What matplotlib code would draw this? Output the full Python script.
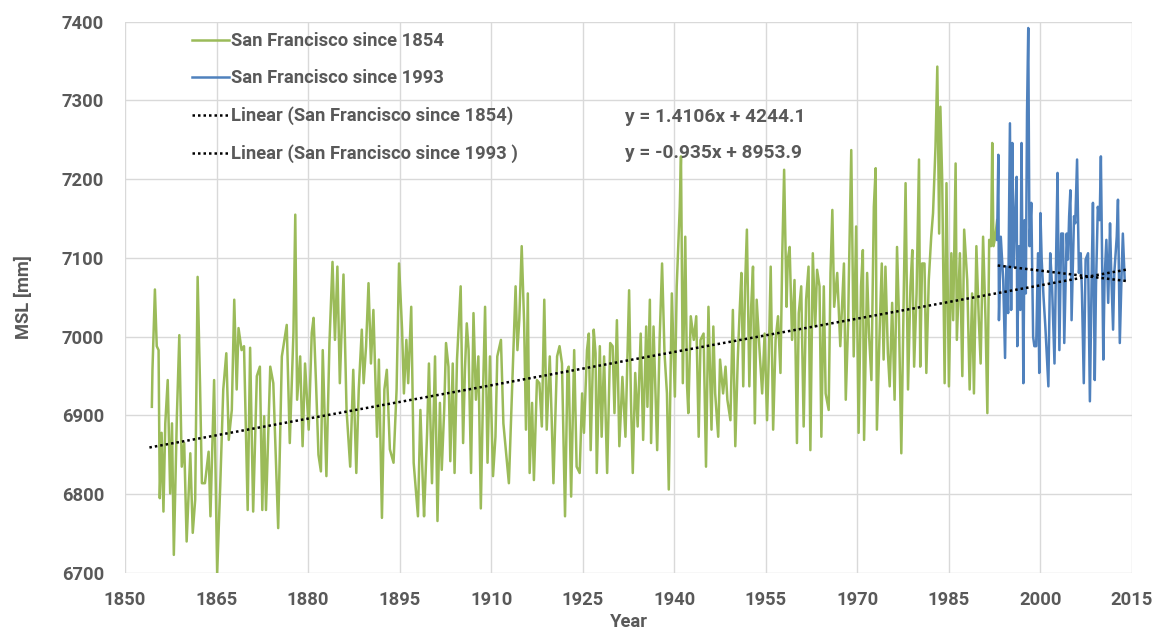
import matplotlib
matplotlib.use("Agg")
import matplotlib.pyplot as plt
import numpy as np

# Monthly mean sea level, San Francisco (mm)
sf1854_year = [
    1854.4, 1854.5, 1854.9, 1855.2, 1855.5, 1855.7, 1856.0, 1856.3, 1856.6, 1857.0,
    1857.4, 1857.7, 1858.0, 1858.5, 1858.9, 1859.3, 1859.7, 1860.1, 1860.7, 1861.1,
    1861.5, 1861.9, 1862.3, 1862.6, 1863.1, 1863.7, 1864.0, 1864.6, 1865.1, 1865.6,
    1866.1, 1866.6, 1867.0, 1867.5, 1867.9, 1868.3, 1868.6, 1869.1, 1869.5, 1870.1,
    1870.5, 1871.0, 1871.6, 1872.1, 1872.5, 1872.8, 1873.1, 1873.8, 1874.3, 1875.1,
    1875.7, 1876.5,
    1877.0, 1877.6, 1877.9, 1878.2, 1878.7, 1879.1, 1879.5, 1880.1, 1880.6, 1880.9,
    1881.3, 1881.7, 1882.1, 1882.4, 1883.0, 1883.5, 1884.0, 1884.4, 1884.8, 1885.2,
    1885.8, 1886.3, 1886.9, 1887.4, 1887.9, 1888.3, 1888.8, 1889.1, 1889.5, 1889.9,
    1890.3, 1890.7, 1891.3, 1891.6, 1892.1, 1892.5, 1892.9, 1893.4, 1894.0, 1894.5,
    1894.9, 1895.4, 1895.7, 1896.1, 1896.4, 1896.9, 1897.3, 1897.7, 1898.0, 1898.4,
    1898.8, 1899.0, 1899.5,
    1899.8, 1900.3, 1900.8, 1901.2, 1901.6, 1901.9, 1902.3, 1902.6, 1903.0, 1903.3,
    1903.7, 1904.0, 1904.4, 1904.8, 1905.0, 1905.4, 1905.7, 1906.0, 1906.3, 1906.7,
    1907.1, 1907.5, 1907.9, 1908.3, 1908.7, 1909.0, 1909.4, 1909.8, 1910.3, 1910.7,
    1911.0, 1911.6, 1912.0, 1912.5, 1912.9, 1913.2, 1913.7, 1914.0, 1914.3, 1914.6,
    1915.0, 1915.4, 1915.7, 1916.0, 1916.3, 1916.7, 1917.0, 1917.5, 1917.9, 1918.3,
    1918.7, 1919.1, 1919.6, 1919.9, 1920.2, 1920.8, 1921.2, 1921.6, 1922.1, 1922.5,
    1922.7, 1923.1, 1923.6, 1924.0, 1924.5, 1924.9, 1925.2, 1925.7, 1926.0, 1926.3,
    1926.8, 1927.1, 1927.3, 1927.8, 1928.1, 1928.5, 1929.0, 1929.5, 1929.9, 1930.2,
    1930.6, 1931.0, 1931.5, 1932.0, 1932.6, 1932.9, 1933.2, 1933.6, 1934.0, 1934.5,
    1934.9, 1935.4, 1935.6, 1936.0, 1936.2, 1936.6, 1937.2, 1937.6, 1938.0, 1938.4,
    1938.8, 1939.1, 1939.6, 1940.1, 1940.4, 1940.9, 1941.1, 1941.4, 1941.8, 1942.1,
    1942.3, 1942.7, 1943.2, 1943.6, 1944.0, 1944.3, 1944.8, 1945.2, 1945.6,
    1946.1, 1946.4, 1946.7, 1947.2, 1947.5, 1948.0, 1948.4, 1948.7, 1949.2, 1949.6,
    1950.0, 1950.4, 1950.7, 1951.0, 1951.3, 1951.6, 1951.9, 1952.3, 1952.6, 1952.9,
    1953.2, 1953.5, 1954.0, 1954.4, 1954.8, 1955.2, 1955.5, 1955.8, 1956.2, 1956.6,
    1957.0, 1957.4, 1957.7, 1958.0, 1958.4, 1958.6, 1958.9, 1959.3, 1959.7, 1960.1,
    1960.4, 1960.8, 1961.2, 1961.6, 1962.0, 1962.3, 1962.7, 1963.1, 1963.4, 1963.8,
    1964.1, 1964.5, 1964.8, 1965.3, 1965.6, 1965.9, 1966.2, 1966.7, 1967.2, 1967.8,
    1968.1, 1968.5,
    1968.6, 1969.0, 1969.4, 1969.8, 1970.2, 1970.6, 1970.9, 1971.1, 1971.6, 1971.9,
    1972.3, 1972.7, 1973.0, 1973.2, 1973.7, 1974.0, 1974.3, 1974.6, 1975.0, 1975.3,
    1975.7, 1976.1, 1976.5, 1976.8, 1977.2, 1977.6, 1977.9, 1978.3, 1978.7, 1979.0,
    1979.3, 1979.7, 1980.1, 1980.3, 1980.6, 1981.0, 1981.3, 1981.7, 1982.1, 1982.4,
    1982.8, 1983.1, 1983.4, 1983.6, 1983.9, 1984.3, 1984.6, 1985.0, 1985.4, 1985.7,
    1986.1, 1986.3, 1986.8, 1987.2, 1987.5, 1988.0, 1988.4, 1988.8, 1989.1, 1989.5,
    1989.9, 1990.2, 1990.6, 1991.0, 1991.3, 1991.6, 1991.9, 1992.1, 1992.3, 1992.6,
    1992.9,
]
sf1854_mm = [
    6911, 6958, 7060, 6988, 6983, 6795, 6878, 6778, 6890, 6945,
    6801, 6890, 6723, 6899, 7002, 6835, 6865, 6740, 6852, 6751,
    6793, 7076, 6937, 6814, 6814, 6854, 6772, 6945, 6700, 6810,
    6933, 6979, 6869, 6907, 7047, 6933, 7011, 6983, 6988, 6780,
    6986, 6778, 6950, 6962, 6780, 6899, 6780, 6962, 6941, 6757,
    6975, 7015,
    6865, 7005, 7155, 6920, 6975, 6861, 6966, 6882, 7005, 7024,
    6941, 6850, 6829, 6983, 6823, 6992, 7095, 6996, 7089, 6941,
    7079, 6907, 6835, 6958, 6827, 6933, 7009, 6941, 6988, 7068,
    6966, 7034, 6873, 6971, 6770, 6933, 6958, 6857, 6840, 6933,
    7093, 7009, 6928, 6996, 6941, 7038, 6840, 6801, 6772, 6907,
    6814, 6772, 6878,
    6966, 6814, 6975, 6766, 6916, 6831, 6907, 6992, 6962, 6842,
    6966, 6827, 6971, 7034, 7064, 6865, 6958, 7017, 6983, 6827,
    7030, 6920, 6975, 6782, 6941, 7038, 6840, 6975, 6823, 6873,
    6975, 6996, 6890, 6848, 6814, 6882, 6992, 7064, 6983, 7021,
    7115, 7017, 6882, 7055, 6827, 6916, 6818, 6945, 6941, 6886,
    7047, 6882, 6975, 6899, 6814, 6975, 6988, 6966, 6772, 6958,
    6962, 6797, 6983, 6835, 6827, 6928, 6878, 6983, 7004, 6856,
    7009, 6979, 6827, 6988, 6873, 6975, 6827, 6992, 6988, 6903,
    7021, 6861, 6949, 6873, 7059, 6920, 6827, 6954, 6886, 7004,
    6869, 7013, 6911, 7047, 6865, 7013, 6856, 6996, 7093, 6979,
    6928, 6806, 7055, 6924, 7064, 7165, 7229, 6941, 7127, 6937,
    6903, 7026, 6996, 7026, 6873, 6996, 7004, 6835, 7038,
    6882, 7013, 6928, 6873, 6971, 6928, 6962, 6920, 6894, 7034,
    6861, 6971, 7030, 7081, 6937, 7064, 7136, 6937, 7038, 7089,
    6890, 7047, 6979, 6928, 7004, 6894, 6979, 7089, 6882, 6996,
    7026, 6954, 7106, 7212, 7038, 7098, 7114, 6996, 7072, 6865,
    7030, 7064, 6886, 7047, 7089, 6856, 7106, 7013, 7085, 7064,
    6873, 7064, 6928, 6907, 7081, 7161, 7038, 7081, 6988, 7093,
    6920, 7021,
    7072, 7237, 6975, 7140, 6878, 7064, 7110, 6869, 7081, 7005,
    6945, 7165, 7214, 6882, 7021, 7093, 6971, 7089, 6979, 6937,
    7043, 6920, 7114, 7030, 6852, 7055, 7195, 6933, 7064, 7110,
    6962, 7055, 7225, 6962, 7093, 7093, 6954, 7072, 7127, 7157,
    7241, 7343, 7131, 7292, 7199, 6941, 7195, 6937, 7106, 7021,
    7220, 6996, 7106, 6950, 7136, 7072, 6933, 7055, 6928, 7115,
    7021, 6966, 7127, 7021, 6903, 7123, 7115, 7246, 7115, 7127,
    7148,
]

sf1993_year = [
    1992.9, 1993.1, 1993.2, 1993.5, 1993.9, 1994.2, 1994.4, 1994.7, 1995.0, 1995.2,
    1995.4, 1995.6, 1995.8, 1996.1, 1996.2, 1996.5, 1996.7, 1996.9, 1997.2, 1997.4,
    1997.6, 1997.8, 1998.0, 1998.2, 1998.5, 1998.8, 1999.0, 1999.3, 1999.6, 1999.8,
    2000.0, 2000.2, 2000.5, 2000.8, 2001.3, 2001.6, 2001.9, 2002.3, 2002.6, 2002.8,
    2003.1, 2003.4, 2003.7, 2003.9, 2004.3, 2004.5, 2004.7, 2004.9, 2005.1, 2005.5,
    2005.7, 2006.0, 2006.3, 2006.6, 2006.8, 2007.1, 2007.4, 2007.8, 2008.1, 2008.4,
    2008.6, 2008.9, 2009.1, 2009.4, 2009.7, 2009.9, 2010.3, 2010.5, 2010.8, 2011.1,
    2011.4, 2011.6, 2011.9, 2012.1, 2012.5, 2012.7, 2013.0, 2013.3, 2013.5, 2013.8,
]
sf1993_mm = [
    7123, 7231, 7021, 7127, 7072, 6973, 7089, 7030, 7271, 7034,
    7246, 7089, 7140, 7203, 6988, 7115, 7034, 7246, 6941, 7148,
    7055, 7284, 7392, 7115, 7170, 7000, 6988, 6988, 7106, 6954,
    7157, 7098, 7051, 7013, 6937, 7106, 7064, 6966, 7119, 7208,
    6983, 7131, 7131, 6992, 7131, 7098, 7153, 7186, 7021, 7153,
    7144, 7225, 7081, 7106, 7055, 6941, 7098, 7106, 6918, 7081,
    7170, 6945, 7064, 7165, 7148, 7229, 6971, 7072, 7123, 7043,
    7144, 7081, 7009, 7081, 7127, 7174, 6992, 7081, 7131, 7072,
]

# Linear trend fits (x in years)
trend1854_slope, trend1854_icpt = 1.4106, 4244.1
trend1854_span = [1854, 2014]
trend1993_slope, trend1993_icpt = -0.935, 8953.9
trend1993_span = [1993, 2014]

year_ticks = [1850, 1865, 1880, 1895, 1910, 1925, 1940, 1955, 1970, 1985, 2000, 2015]
msl_ticks = [6700, 6800, 6900, 7000, 7100, 7200, 7300, 7400]

GREEN = "#9BBB59"
BLUE = "#4F81BD"
TEXT = "#595959"
GRID = "#D9D9D9"
FONT = ["Roboto", "DejaVu Sans"]
FS = 13.2

plt.rcParams["font.family"] = FONT
plt.rcParams["font.weight"] = "bold"

W, H = 1154, 631
fig = plt.figure(figsize=(W / 100, H / 100), dpi=100)
ax = fig.add_axes([125 / W, (H - 573) / H, (1132 - 125) / W, (573 - 21.7) / H])

ax.plot(sf1854_year, sf1854_mm, color=GREEN, lw=1.8, label="San Francisco since 1854", zorder=3)
ax.plot(sf1993_year, sf1993_mm, color=BLUE, lw=1.8, label="San Francisco since 1993", zorder=4)

tx1 = np.array(trend1854_span, dtype=float)
ax.plot(tx1, trend1854_slope * tx1 + trend1854_icpt, color="black", lw=1.8,
        linestyle=(0, (1, 1.2)), label="Linear (San Francisco since 1854)", zorder=5)
tx2 = np.array(trend1993_span, dtype=float)
ax.plot(tx2, trend1993_slope * tx2 + trend1993_icpt, color="black", lw=1.8,
        linestyle=(0, (1, 1.2)), label="Linear (San Francisco since 1993 )", zorder=5)

ax.set_xlim(year_ticks[0], year_ticks[-1])
ax.set_ylim(msl_ticks[0], msl_ticks[-1])
ax.set_xticks(year_ticks)
ax.set_yticks(msl_ticks)
ax.grid(True, color=GRID, lw=1.0)
ax.set_axisbelow(True)
for s in ax.spines.values():
    s.set_visible(False)
ax.tick_params(length=0, labelsize=FS, labelcolor=TEXT)
ax.tick_params(axis="x", pad=13)
ax.tick_params(axis="y", pad=15)

ax.set_xlabel("Year", fontsize=FS, color=TEXT, fontweight="bold", labelpad=2.5)
ax.set_ylabel("MSL [mm]", fontsize=FS, color=TEXT, fontweight="bold", labelpad=21)

leg = ax.legend(loc="upper left", bbox_to_anchor=(192 / W, (H - 32) / H),
                bbox_transform=fig.transFigure, frameon=False, fontsize=FS,
                handlelength=2.0, handletextpad=0.15, labelspacing=1.05,
                borderaxespad=0, borderpad=0)
for t in leg.get_texts():
    t.set_color(TEXT)

ax.text(625 / W, (H - 117) / H, f"y = {trend1854_slope}x + {trend1854_icpt}",
        transform=fig.transFigure, fontsize=13.8, color=TEXT, va="center", ha="left")
ax.text(625 / W, (H - 153) / H, f"y = {trend1993_slope}x + {trend1993_icpt}",
        transform=fig.transFigure, fontsize=13.8, color=TEXT, va="center", ha="left")

fig.savefig("out.png", dpi=100, facecolor="white")
